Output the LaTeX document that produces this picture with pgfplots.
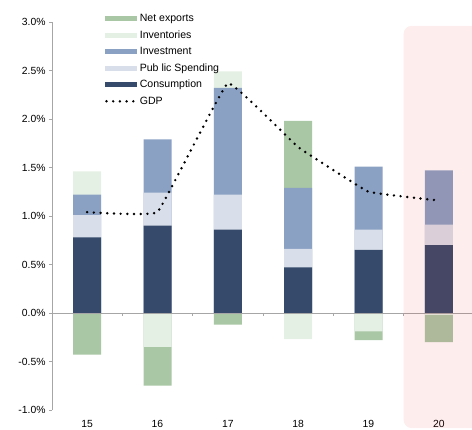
\documentclass[border=0pt]{standalone}
\usepackage{pgfplots}
\pgfplotsset{compat=1.18}
\usepackage{fontspec}
\setmainfont{Liberation Sans}
\definecolor{cons}{HTML}{364A6B}
\definecolor{pub}{HTML}{D9DFEA}
\definecolor{inv}{HTML}{8AA1C4}
\definecolor{invt}{HTML}{E4F0E4}
\definecolor{nx}{HTML}{A9C6A5}
\definecolor{ov}{RGB}{231,43,43}
\definecolor{axgray}{HTML}{A6A6A6}
\begin{document}
\begin{tikzpicture}
\begin{axis}[
  at={(0,0)}, anchor=south west,
  scale only axis, width=422bp, height=388bp,
  xmin=-0.5, xmax=5.5, ymin=-1, ymax=3,
  clip=false,
  axis y line*=left, axis x line*=bottom,
  x axis line style={draw=none},
  y axis line style={axgray, line width=0.8bp},
  xtick={0,...,5}, xticklabels={15,16,17,18,19,20},
  xtick style={draw=none},
  xticklabel style={yshift=-4bp},
  ytick={-1,-0.5,...,3},
  ytick style={axgray, line width=0.8bp},
  tick align=outside, major tick length=3bp,
  yticklabel={\pgfmathprintnumber[fixed,fixed zerofill,precision=1]{\tick}\%},
  /pgf/number format/assume math mode=true,
  tick label style={font=\fontsize{10.4}{12}\selectfont},
  legend style={at={(axis description cs:0.118,1.029)}, anchor=north west, draw=none, fill=none,
    font=\fontsize{10.6}{12}\selectfont, row sep=4.5bp, nodes={inner sep=1.5bp}},
  legend cell align=left,
]
\addplot[ybar, bar width=28bp, bar shift=0pt, fill=nx, draw=none,
  legend image code/.code={\fill[nx] (0bp,-2.5bp) rectangle (32bp,2.5bp);}]
  coordinates {(0,-0.43) (1,-0.75) (2,-0.12) (3,1.98) (4,-0.28) (5,-0.30)};
\addlegendentry{Net exports}
\addplot[ybar, bar width=28bp, bar shift=0pt, fill=invt, draw=none,
  legend image code/.code={\fill[invt] (0bp,-2.5bp) rectangle (32bp,2.5bp);}]
  coordinates {(0,1.46) (1,-0.35) (2,2.49) (3,-0.27) (4,-0.19) (5,-0.02)};
\addlegendentry{Inventories}
\addplot[ybar, bar width=28bp, bar shift=0pt, fill=inv, draw=none,
  legend image code/.code={\fill[inv] (0bp,-2.5bp) rectangle (32bp,2.5bp);}]
  coordinates {(0,1.22) (1,1.79) (2,2.32) (3,1.29) (4,1.51) (5,1.47)};
\addlegendentry{Investment}
\addplot[ybar, bar width=28bp, bar shift=0pt, fill=pub, draw=none,
  legend image code/.code={\fill[pub] (0bp,-2.5bp) rectangle (32bp,2.5bp);}]
  coordinates {(0,1.01) (1,1.24) (2,1.22) (3,0.66) (4,0.86) (5,0.91)};
\addlegendentry{Pub lic Spending}
\addplot[ybar, bar width=28bp, bar shift=0pt, fill=cons, draw=none,
  legend image code/.code={\fill[cons] (0bp,-2.5bp) rectangle (32bp,2.5bp);}]
  coordinates {(0,0.78) (1,0.90) (2,0.86) (3,0.47) (4,0.65) (5,0.70)};
\addlegendentry{Consumption}
\draw[axgray, line width=0.8bp] (axis cs:-0.5,0) -- (axis cs:5.6,0);
\pgfplotsinvokeforeach{0.5,1.5,2.5,3.5,4.5}{\draw[axgray, line width=0.8bp] (axis cs:#1,0) -- ([yshift=-3bp]axis cs:#1,0);}
\fill[ov, opacity=0.085, rounded corners=8bp] (axis cs:4.5,-1.186) rectangle (axis cs:5.7,2.96);
\addplot[smooth, tension=0.12, black, line width=2.7bp, dash pattern=on 0bp off 6.7bp, line cap=round,
  legend image code/.code={\draw[black, line width=2.7bp, dash pattern=on 0bp off 6.7bp, line cap=round] (1.5bp,0) -- (32bp,0);}]
  coordinates {(0,1.04) (1,1.04) (2,2.37) (3,1.71) (4,1.25) (5,1.16)};
\addlegendentry{GDP}
\end{axis}
\pgfresetboundingbox
\path[use as bounding box] (-52bp,-20bp) rectangle (420bp,410bp);
\end{tikzpicture}
\end{document}
